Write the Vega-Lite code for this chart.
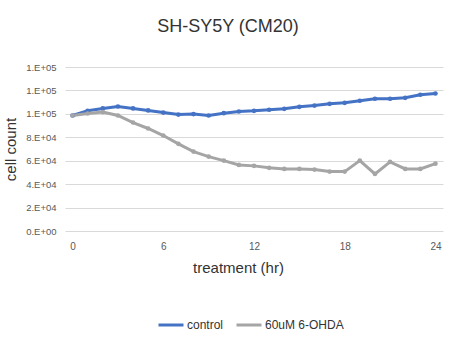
{
  "$schema": "https://vega.github.io/schema/vega-lite/v6.json",
  "width": 378,
  "height": 164,
  "autosize": "none",
  "padding": {"left": 65, "top": 67, "right": 12, "bottom": 109},
  "background": "white",
  "title": {
    "text": "SH-SY5Y (CM20)",
    "font": "Liberation Sans",
    "fontSize": 18,
    "fontWeight": "normal",
    "color": "#333333",
    "anchor": "middle",
    "dx": -26,
    "offset": 26
  },
  "config": {
    "view": {"stroke": null},
    "font": "Liberation Sans"
  },
  "data": {
    "values": [
      {"t": 0, "series": "control", "count": 98600},
      {"t": 1, "series": "control", "count": 102600},
      {"t": 2, "series": "control", "count": 104600},
      {"t": 3, "series": "control", "count": 106300},
      {"t": 4, "series": "control", "count": 104600},
      {"t": 5, "series": "control", "count": 102900},
      {"t": 6, "series": "control", "count": 101100},
      {"t": 7, "series": "control", "count": 99400},
      {"t": 8, "series": "control", "count": 99800},
      {"t": 9, "series": "control", "count": 98600},
      {"t": 10, "series": "control", "count": 100600},
      {"t": 11, "series": "control", "count": 102000},
      {"t": 12, "series": "control", "count": 102600},
      {"t": 13, "series": "control", "count": 103500},
      {"t": 14, "series": "control", "count": 104300},
      {"t": 15, "series": "control", "count": 106000},
      {"t": 16, "series": "control", "count": 107100},
      {"t": 17, "series": "control", "count": 108600},
      {"t": 18, "series": "control", "count": 109400},
      {"t": 19, "series": "control", "count": 111200},
      {"t": 20, "series": "control", "count": 112900},
      {"t": 21, "series": "control", "count": 112900},
      {"t": 22, "series": "control", "count": 113700},
      {"t": 23, "series": "control", "count": 116300},
      {"t": 24, "series": "control", "count": 117400},
      {"t": 0, "series": "60uM 6-OHDA", "count": 98600},
      {"t": 1, "series": "60uM 6-OHDA", "count": 100300},
      {"t": 2, "series": "60uM 6-OHDA", "count": 101500},
      {"t": 3, "series": "60uM 6-OHDA", "count": 98600},
      {"t": 4, "series": "60uM 6-OHDA", "count": 92600},
      {"t": 5, "series": "60uM 6-OHDA", "count": 87500},
      {"t": 6, "series": "60uM 6-OHDA", "count": 81500},
      {"t": 7, "series": "60uM 6-OHDA", "count": 74400},
      {"t": 8, "series": "60uM 6-OHDA", "count": 67800},
      {"t": 9, "series": "60uM 6-OHDA", "count": 63500},
      {"t": 10, "series": "60uM 6-OHDA", "count": 60100},
      {"t": 11, "series": "60uM 6-OHDA", "count": 56400},
      {"t": 12, "series": "60uM 6-OHDA", "count": 55600},
      {"t": 13, "series": "60uM 6-OHDA", "count": 53900},
      {"t": 14, "series": "60uM 6-OHDA", "count": 53000},
      {"t": 15, "series": "60uM 6-OHDA", "count": 53000},
      {"t": 16, "series": "60uM 6-OHDA", "count": 52400},
      {"t": 17, "series": "60uM 6-OHDA", "count": 50700},
      {"t": 18, "series": "60uM 6-OHDA", "count": 50700},
      {"t": 19, "series": "60uM 6-OHDA", "count": 60100},
      {"t": 20, "series": "60uM 6-OHDA", "count": 48700},
      {"t": 21, "series": "60uM 6-OHDA", "count": 59000},
      {"t": 22, "series": "60uM 6-OHDA", "count": 53000},
      {"t": 23, "series": "60uM 6-OHDA", "count": 53000},
      {"t": 24, "series": "60uM 6-OHDA", "count": 57500}
    ]
  },
  "encoding": {
    "x": {
      "field": "t",
      "type": "quantitative",
      "scale": {"domain": [-0.5, 24.5], "nice": false, "zero": false},
      "axis": {
        "values": [0, 6, 12, 18, 24],
        "grid": false,
        "domain": false,
        "ticks": false,
        "labelFontSize": 10,
        "labelColor": "#595959",
        "labelPadding": 10,
        "title": "treatment (hr)",
        "titleFontSize": 15,
        "titleFontWeight": "normal",
        "titleColor": "#333333",
        "titlePadding": 9,
        "titleX": 173
      }
    },
    "y": {
      "field": "count",
      "type": "quantitative",
      "scale": {"domain": [0, 140000], "nice": false},
      "axis": {
        "values": [0, 20000, 40000, 60000, 80000, 100000, 120000, 140000],
        "labelExpr": "datum.value == 0 ? '0.E+00' : (datum.value < 100000 ? (datum.value / 10000) + '.E+04' : '1.E+05')",
        "grid": true,
        "gridColor": "#d9d9d9",
        "gridWidth": 1,
        "domain": false,
        "ticks": false,
        "labelFontSize": 9.5,
        "labelColor": "#595959",
        "labelPadding": 9,
        "title": "cell count",
        "titleFontSize": 15,
        "titleFontWeight": "normal",
        "titleColor": "#333333",
        "titlePadding": 7
      }
    },
    "color": {
      "field": "series",
      "type": "nominal",
      "scale": {"domain": ["control", "60uM 6-OHDA"], "range": ["#4472C4", "#A5A5A5"]},
      "legend": {
        "title": null,
        "orient": "none",
        "direction": "horizontal",
        "legendX": 92,
        "legendY": 244,
        "symbolType": "stroke",
        "symbolSize": 625,
        "symbolStrokeWidth": 3,
        "labelFontSize": 12,
        "labelColor": "#333333",
        "labelOffset": 2,
        "columnPadding": 6
      }
    }
  },
  "layer": [
    {"mark": {"type": "line", "strokeWidth": 3}},
    {"mark": {"type": "point", "filled": true, "size": 22, "opacity": 1}}
  ]
}
